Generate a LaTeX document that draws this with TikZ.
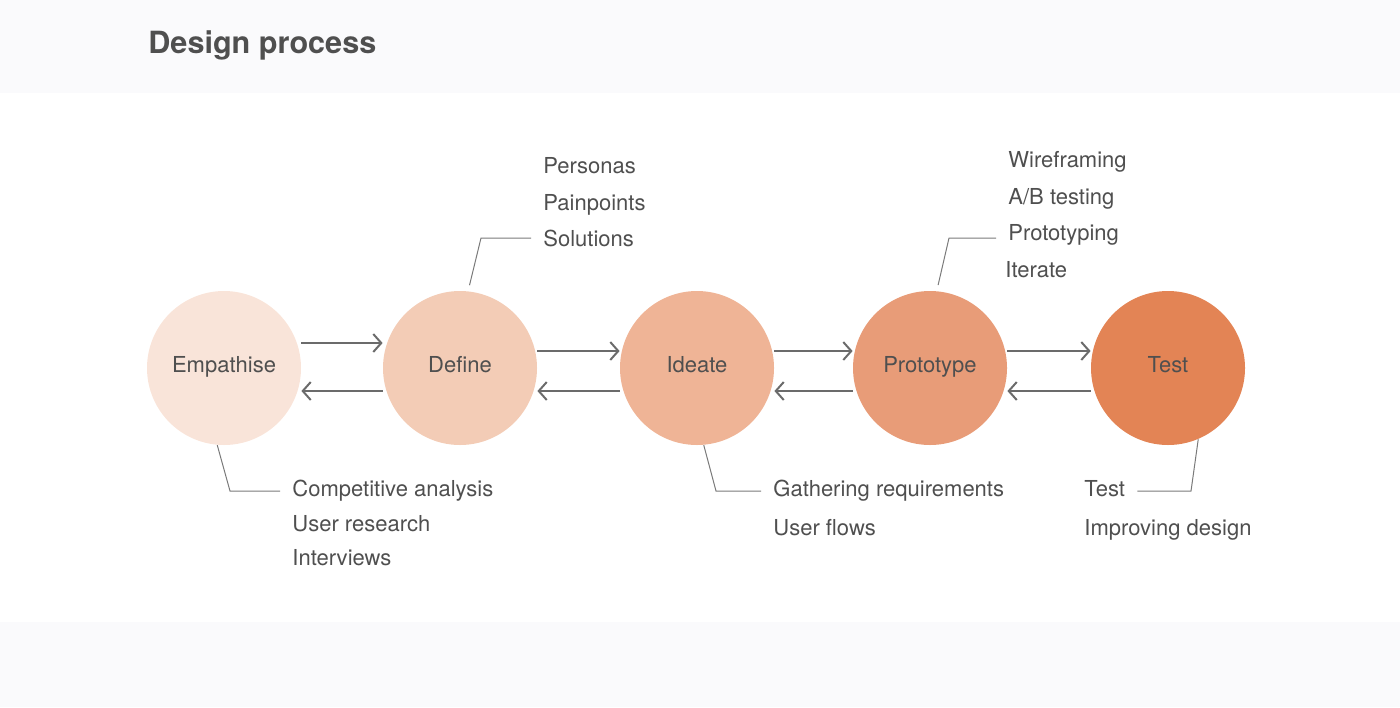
\documentclass[tikz,border=0pt]{standalone}
\usepackage{fontspec}
\setmainfont{TeX Gyre Heros}
\usetikzlibrary{arrows.meta}
\definecolor{bandgray}{HTML}{FAFAFC}
\definecolor{txtgray}{HTML}{4F4F4F}
\definecolor{arrowgray}{HTML}{6B6B6B}
\definecolor{linegray}{HTML}{7A7A7A}
\definecolor{empc}{HTML}{F9E4D9}
\definecolor{defc}{HTML}{F3CCB6}
\definecolor{idec}{HTML}{EFB496}
\definecolor{proc}{HTML}{E89C78}
\definecolor{tstc}{HTML}{E38455}
\begin{document}
\begin{tikzpicture}[x=0.5pt,y=-0.5pt]
  \tikzset{phase circle/.style={circle,minimum size=77pt,inner sep=0pt,fill=#1,text=txtgray,
      text height=7pt,text depth=3pt,font=\fontsize{11}{13}\selectfont},
    item/.style={anchor=base west,inner xsep=6pt,inner ysep=0pt,text=txtgray,font=\fontsize{11}{13}\selectfont},
    flow/.style={draw=arrowgray,line width=1pt,-{Straight Barb[length=4pt,width=9pt,line width=1pt]}},
    callout/.style={draw=linegray,line width=0.5pt}}

  \fill[bandgray] (0,0) rectangle (1400,93);
  \fill[bandgray] (0,622) rectangle (1400,707);
  \useasboundingbox (0,0) rectangle (1400,707);
  \node[anchor=base west,inner sep=0pt,text=txtgray,font=\fontsize{15.3}{18}\selectfont\bfseries] (title) at (148,53) {Design process};

  \node [phase circle=empc] (emp) at (224,368) {Empathise};
  \node [phase circle=defc] (def) at (460,368) {Define};
  \node [phase circle=idec] (ide) at (697,368) {Ideate};
  \node [phase circle=proc] (pro) at (930,368) {Prototype};
  \node [phase circle=tstc] (tst) at (1168,368) {Test};

  \draw[flow] ([yshift=12.5pt]emp.east) -- ([yshift=12.5pt]def.west);
  \draw[flow] ([yshift=8.5pt]def.east) -- ([yshift=8.5pt]ide.west);
  \draw[flow] ([yshift=8.5pt]ide.east) -- ([yshift=8.5pt]pro.west);
  \draw[flow] ([yshift=8.5pt]pro.east) -- ([yshift=8.5pt]tst.west);
  \draw[flow] ([yshift=-11.5pt]def.west) -- ([yshift=-11.5pt]emp.east);
  \draw[flow] ([yshift=-11.5pt]ide.west) -- ([yshift=-11.5pt]def.east);
  \draw[flow] ([yshift=-11.5pt]pro.west) -- ([yshift=-11.5pt]ide.east);
  \draw[flow] ([yshift=-11.5pt]tst.west) -- ([yshift=-11.5pt]pro.east);

  \node[item] (per) at (531,173) {Personas};
  \node[item] (pai) at (531,210) {Painpoints};
  \node[item] (sol) at (531,246) {Solutions};
  \coordinate (defk) at (481,238);
  \draw[callout,shorten <=3pt] (def.84) -- (defk) -- (defk -| sol.west);

  \node[item] (wir) at (996,167) {Wireframing};
  \node[item] (abt) at (996,204) {A/B testing};
  \node[item] (ptg) at (996,240) {Prototyping};
  \node[item] (itr) at (993,277) {Iterate};
  \coordinate (prok) at (949,238);
  \draw[callout,shorten <=3pt] (pro.85) -- (prok) -- (prok -| ptg.west);

  \node[item] (com) at (280,496) {Competitive analysis};
  \node[item] (urs) at (280,531) {User research};
  \node[item] (int) at (280,565) {Interviews};
  \coordinate (empk) at (230,491);
  \draw[callout] (emp.-95) -- (empk) -- (empk -| com.west);

  \node[item] (gat) at (761,496) {Gathering requirements};
  \node[item] (ufl) at (761,535) {User flows};
  \coordinate (idek) at (716,491);
  \draw[callout] (ide.-85) -- (idek) -- (idek -| gat.west);

  \node[item] (tsi) at (1072,496) {Test};
  \node[item] (imp) at (1072,535) {Improving design};
  \coordinate (tstk) at (1191,491);
  \draw[callout] (tst.-67) -- (tstk) -- (tstk -| tsi.east);
\end{tikzpicture}
\end{document}
